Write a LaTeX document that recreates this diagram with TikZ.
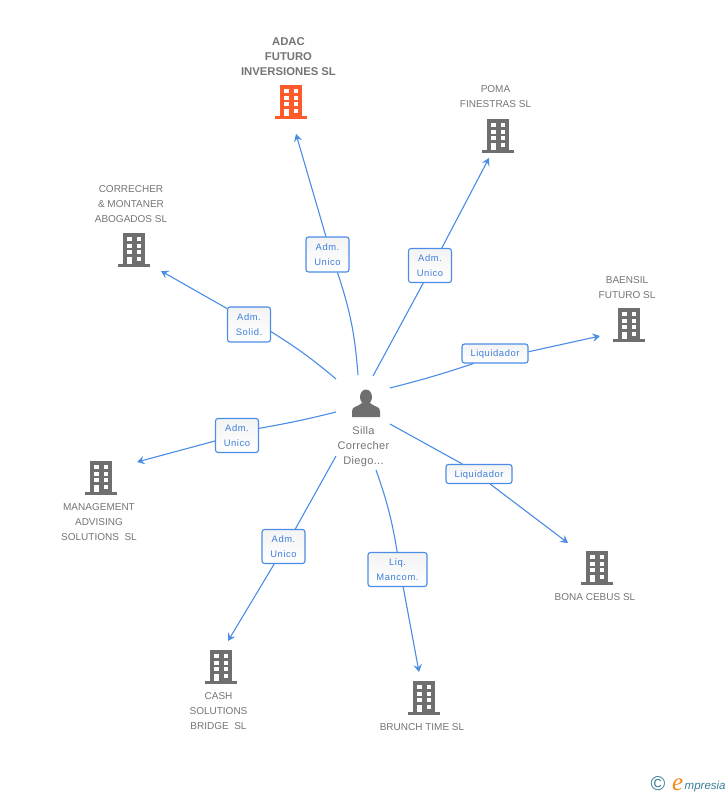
\documentclass[tikz,border=0pt]{standalone}
\usepackage{fontspec}
\setmainfont{Liberation Sans}
\usetikzlibrary{arrows.meta}
\definecolor{lnk}{HTML}{4A8CE6}
\definecolor{boxtxt}{HTML}{3F7FDD}
\definecolor{txtgray}{HTML}{757575}
\definecolor{icongray}{HTML}{6F6F6F}
\definecolor{orangeicon}{HTML}{FF5A2B}
\definecolor{logoteal}{HTML}{3A7F98}
\definecolor{logoorange}{HTML}{F08A1D}
\definecolor{F4box}{HTML}{F3F3F3}
\newfontfamily\spaced[LetterSpace=6]{Liberation Sans}
\newfontfamily\spacedlite[LetterSpace=3]{Liberation Sans}
\newfontfamily\logoserif{Liberation Serif}
\tikzset{
  link/.style={draw=lnk,line width=1.1pt},
  arrowlink/.style={link,-{Stealth[length=7.5pt,width=8.5pt,inset=2.8pt]}},
  rolebox/.style={draw=lnk,line width=1.1pt,rounded corners=2.5pt,top color=F4box,bottom color=white,text=boxtxt,
    font=\spaced\fontsize{9.4}{15.5}\selectfont,align=center,inner sep=0pt},
  caption/.style={text=txtgray,font=\fontsize{10}{15}\selectfont,align=center,inner sep=0pt},
  pics/building/.style={code={
    \fill[#1] (-11,0) rectangle (11,31);
    \fill[#1] (-16,31) rectangle (16,34);
    \foreach \yy in {4,10.5,17}{
      \fill[white] (-6.8,\yy) rectangle (-2,\yy+4);
      \fill[white] (2.6,\yy) rectangle (7.3,\yy+4);
    }
    \fill[white] (-6.8,23.5) rectangle (-2,31);
    \fill[white] (2.6,23.5) rectangle (7.3,27.8);
  }}
}
\begin{document}
\begin{tikzpicture}[x=1pt,y=-1pt]
\useasboundingbox[fill=white] (0,0) rectangle (728,795);

% buildings
\pic at (291,85) {building=orangeicon};
\pic at (498,119) {building=icongray};
\pic at (134,233) {building=icongray};
\pic at (629,308) {building=icongray};
\pic at (101,461) {building=icongray};
\pic at (597,551) {building=icongray};
\pic at (221,650) {building=icongray};
\pic at (424,681) {building=icongray};

% person
\fill[icongray] (366,397) circle[x radius=6,y radius=7.5];
\fill[icongray] (352,417) -- (352,411) .. controls (352,406) and (358,407) .. (362,403)
  -- (370,403) .. controls (374,407) and (380,406) .. (380,411) -- (380,417) -- cycle;

% captions
\node[caption,font=\bfseries\fontsize{11.3}{15}\selectfont] (adac) at (288.5,56.3) {ADAC\\FUTURO\\INVERSIONES SL};
\node[caption] (poma) at (495.5,96.7) {POMA\\FINESTRAS SL};
\node[caption] (corr) at (131,204.4) {CORRECHER\\\&\ MONTANER\\ABOGADOS SL};
\node[caption] (baen) at (627,287.4) {BAENSIL\\FUTURO SL};
\node[caption] (mana) at (99,522.4) {MANAGEMENT\\ADVISING\\SOLUTIONS\ \ SL};
\node[caption] (bona) at (595,597.5) {BONA CEBUS SL};
\node[caption] (cash) at (218.5,711.4) {CASH\\SOLUTIONS\\BRIDGE\ \ SL};
\node[caption] (brun) at (422,727.5) {BRUNCH TIME SL};
\node[caption,font=\spacedlite\fontsize{11}{15}\selectfont] (silla) at (363.5,446.5) {Silla\\Correcher\\Diego...};

% role boxes
\node[rolebox,minimum width=43pt,minimum height=35pt] (r1) at (327.5,254.5) {Adm.\\Unico};
\node[rolebox,minimum width=43pt,minimum height=34pt] (r2) at (430,265.5) {Adm.\\Unico};
\node[rolebox,minimum width=43pt,minimum height=35pt] (r3) at (249,324.5) {Adm.\\Solid.};
\node[rolebox,minimum width=66pt,minimum height=19pt,text depth=0pt] (r4) at (495,353.5) {Liquidador};
\node[rolebox,minimum width=43pt,minimum height=34pt] (r5) at (237,435.5) {Adm.\\Unico};
\node[rolebox,minimum width=66pt,minimum height=19pt,text depth=0pt] (r6) at (479,474) {Liquidador};
\node[rolebox,minimum width=43pt,minimum height=34pt] (r7) at (283.5,546.5) {Adm.\\Unico};
\node[rolebox,minimum width=59pt,minimum height=34pt] (r8) at (397.5,569.5) {Liq.\\Mancom.};

% connector ends
\coordinate (s1) at (358,375); \coordinate (e1) at (296,134);
\coordinate (s2) at (373,376); \coordinate (e2) at (489,158);
\coordinate (s3) at (336,379); \coordinate (e3) at (161,271);
\coordinate (s4) at (390,388); \coordinate (e4) at (600,336);
\coordinate (s5) at (336,412); \coordinate (e5) at (137,462);
\coordinate (s6) at (390,424); \coordinate (e6) at (568,543);
\coordinate (s7) at (336,456); \coordinate (e7) at (228,641);
\coordinate (s8) at (376,470); \coordinate (e8) at (419,672);

\draw[link] (s1) to[bend right=7] (r1.-61.5);
\draw[arrowlink] (r1.95) to (e1);
\draw[link] (s2) to (r2.-111.8);
\draw[arrowlink] (r2.56.3) to (e2);
\draw[link] (s3) to[bend right=4] (r3.-18.8);
\draw[arrowlink] (r3.144.2) to (e3);
\draw[link] (s4) to[bend right=2] (r4.205.4);
\draw[arrowlink] (r4.3.5) to (e4);
\draw[link] (s5) to[bend left=2] (r5.18.8);
\draw[arrowlink] (r5.194) to (e5);
\draw[link] (s6) to (r6.149.5);
\draw[arrowlink] (r6.-42.3) to (e6);
\draw[link] (s7) to (r7.56.7);
\draw[arrowlink] (r7.-118.5) to (e7);
\draw[link] (s8) to[bend left=5] (r8.91.6);
\draw[arrowlink] (r8.-72.5) to (e8);

% logo
\node[inner sep=0pt,text=logoteal,font=\fontsize{20}{20}\selectfont] (copy) at (658,784) {©};
\node[inner sep=0pt,anchor=base west,font=\logoserif\itshape\fontsize{25}{25}\selectfont,text=logoorange] (elog) at (672,790) {e};
\node[inner sep=0pt,anchor=base west,font=\itshape\fontsize{11.5}{12}\selectfont,text=logoteal] (mlog) at (684.5,789) {mpresia};
\end{tikzpicture}
\end{document}
